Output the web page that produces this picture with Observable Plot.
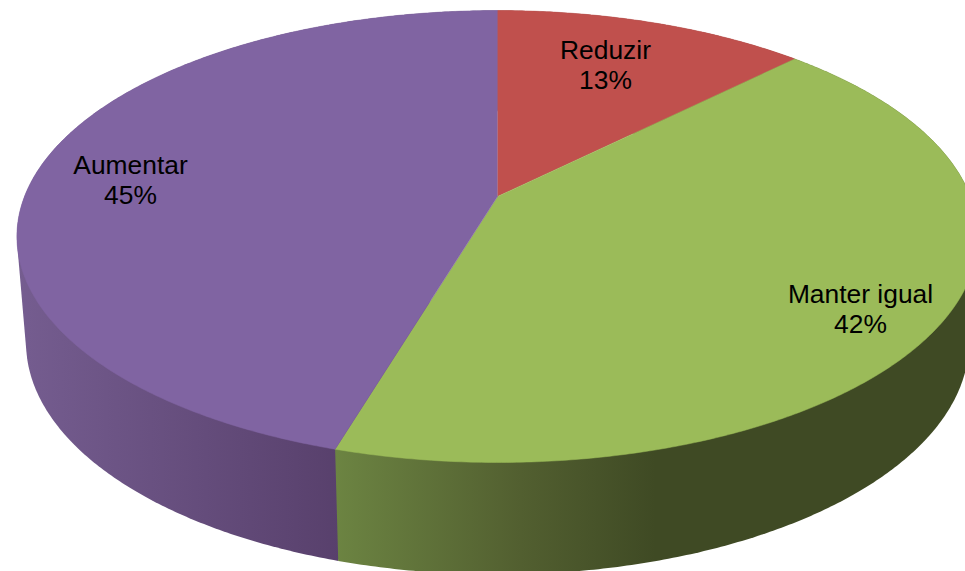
<!DOCTYPE html>
<html>
<head>
<meta charset="utf-8">
<script src="https://cdn.jsdelivr.net/npm/d3@7"></script>
<script src="https://cdn.jsdelivr.net/npm/@observablehq/plot@0.6"></script>
<style>
html,body{margin:0;padding:0;background:#fff;overflow:hidden}
</style>
</head>
<body>
<div id="chart"></div>
<script>
const categories = ["Reduzir", "Manter igual", "Aumentar"];
const shares = [12.5, 42.1, 45.4];
const topColors = ["#C0504D", "#9BBB59", "#8064A2"];

// View layout: a perspective disc with a front-to-back foreshortening
const W = 965, H = 571;
const persp = 0.177;
const topFace = {cx: 497, cy: 196, rx: 473, ry: 218.9};
const baseFace = {cx: 497, cy: 301, rx: 464, ry: 224.7};
const labelSpots = [[605, 64], [860, 308], [130, 179]];
const wallIds = ["wallA", "wallB", "wallC"];
const wallFill = [
  [[497, "#7E3B39"], [800, "#7E3B39"]],
  [[335, "#6C8442"], [520, "#525F30"], [655, "#3F4A24"], [965, "#3F4A24"]],
  [[16, "#755D90"], [340, "#58406C"]]
];

function project(face, turn) {
  const a = turn * 2 * Math.PI, u = Math.sin(a), v = -Math.cos(a);
  const d = 1 - persp * v;
  return {x: face.cx + face.rx * u / d, y: face.cy + face.ry * v / d};
}
function arc(face, t0, t1) {
  const n = Math.max(2, Math.ceil((t1 - t0) * 720));
  return d3.range(n + 1).map(i => project(face, t0 + (t1 - t0) * i / n));
}

const total = d3.sum(shares);
const slices = [];
shares.reduce((acc, s, i) => {
  slices.push({i, t0: acc / total, t1: (acc + s) / total});
  return acc + s;
}, 0);

const marks = [];
marks.push((index, scales) => {
  const defs = d3.create("svg:defs");
  wallFill.forEach((stops, i) => {
    const x0 = stops[0][0], x1 = stops[stops.length - 1][0];
    const g = defs.append("linearGradient")
      .attr("id", wallIds[i])
      .attr("gradientUnits", "userSpaceOnUse")
      .attr("x1", scales.x(x0)).attr("x2", scales.x(x1))
      .attr("y1", 0).attr("y2", 0);
    stops.forEach(([x, c]) => g.append("stop")
      .attr("offset", (x - x0) / (x1 - x0)).attr("stop-color", c));
  });
  return defs.node();
});

// Side walls first (back to front), then the top faces over them.
// Each wall is the hull of its two rims, so the silhouette has no notch.
for (const s of [...slices].reverse()) {
  const rim = [...arc(topFace, s.t0, s.t1), ...arc(baseFace, s.t0, s.t1)];
  const hull = d3.polygonHull(rim.map(p => [p.x, p.y])).map(([x, y]) => ({x, y}));
  hull.push(hull[0]);
  marks.push(Plot.line(hull, {x: "x", y: "y", fill: `url(#${wallIds[s.i]})`, stroke: "none", curve: "linear"}));
}
for (const s of slices) {
  const pts = [{x: topFace.cx, y: topFace.cy}, ...arc(topFace, s.t0, s.t1)];
  marks.push(Plot.line(pts, {x: "x", y: "y", fill: topColors[s.i], stroke: topColors[s.i], strokeWidth: 0.5, curve: "linear"}));
}
marks.push(Plot.text(categories.map((c, i) => ({
  text: `${c}\n${Math.round(shares[i])}%`, x: labelSpots[i][0], y: labelSpots[i][1]
})), {
  x: "x", y: "y", text: "text", fill: "#000", fontSize: 26.4, lineHeight: 1.13,
  fontFamily: "Liberation Sans, Arial, sans-serif", textAnchor: "middle", lineAnchor: "middle"
}));

const chart = Plot.plot({
  width: W, height: H,
  margin: 0,
  x: {domain: [0, W], range: [0, W], axis: null},
  y: {domain: [0, H], range: [0, H], axis: null},
  style: {background: "#fff", overflow: "hidden"},
  marks
});
document.getElementById("chart").appendChild(chart);
</script>
</body>
</html>
